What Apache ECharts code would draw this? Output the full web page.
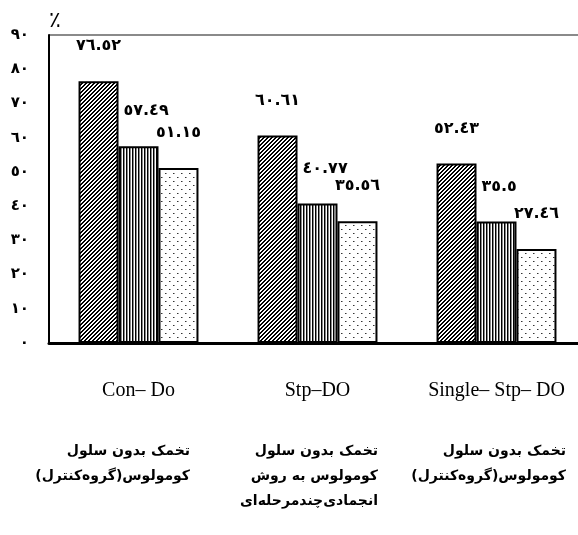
<!DOCTYPE html>
<html><head><meta charset="utf-8">
<script src="https://cdn.jsdelivr.net/npm/echarts@6/dist/echarts.min.js"></script>
<style>html,body{margin:0;padding:0;background:#fff;overflow:hidden}#c{width:700px;height:535px}</style>
</head><body><div id="c"></div>
<script>
const categories = ['Con– Do', 'Stp–DO', 'Single– Stp– DO'];
const faLabels = [
  ['تخمک بدون سلول', 'کومولوس(گروه\u200Cکنترل)'],
  ['تخمک بدون سلول', 'کومولوس به روش', 'انجمادی\u200Cچندمرحله\u200Cای'],
  ['تخمک بدون سلول', 'کومولوس(گروه\u200Cکنترل)']
];
const seriesA = [76.52, 60.61, 52.43];
const seriesB = [57.49, 40.77, 35.5];
const seriesC = [51.15, 35.56, 27.46];
const yMin = 0, yMax = 90, yInterval = 10;
const yName = '٪';

const AR = '٠١٢٣٤٥٦٧٨٩';
function toAr(v){ return String(v).replace(/[0-9]/g, d => AR[+d]); }
function rtl(s){ return '\u200F' + s + '\u200F'; }

function pattern(kind){
  const c = document.createElement('canvas');
  let n = kind === 'diag' ? 4 : kind === 'vert' ? 3 : 8;
  c.width = n; c.height = n;
  const g = c.getContext('2d');
  g.fillStyle = '#fff'; g.fillRect(0,0,n,n);
  if (kind === 'diag') {
    g.fillStyle = '#000';
    for (let x=0;x<n;x++) for (let y=0;y<n;y++) if ((x+y)%4 < 2) g.fillRect(x,y,1,1);
  } else if (kind === 'vert') {
    g.fillStyle = '#000'; g.fillRect(0,0,1,n);
    g.fillStyle = '#888'; g.fillRect(1,0,1,n);
  } else {
    g.fillStyle = '#333';
    g.fillRect(1,1,1,1); g.fillRect(5,5,1,1);
    g.fillStyle = '#999';
    g.fillRect(2,1,1,1); g.fillRect(6,5,1,1);
  }
  return {image: c, repeat: 'repeat'};
}

const labelFont = {fontFamily: 'DejaVu Sans', fontWeight: 'bold', fontSize: 16, color: '#000'};
function mkSeries(name, data, pat, extraLabel){
  return {
    name, type: 'bar', data, barGap: '0%', barCategoryGap: '33%',
    itemStyle: {color: pattern(pat), borderColor: '#000', borderWidth: 2},
    label: Object.assign({show: true, position: 'top', distance: 27,
      formatter: p => toAr(p.value)}, labelFont, extraLabel || {}),
    animation: false
  };
}

const grayIdx = Math.round((yMax - yMin) / yInterval);
const splitColors = [];
for (let i = 0; i <= grayIdx; i++) splitColors.push(i === grayIdx ? '#8a8a8a' : 'rgba(0,0,0,0)');

const chart = echarts.init(document.getElementById('c'), null, {renderer: 'canvas'});
chart.setOption({
  animation: false,
  backgroundColor: '#fff',
  grid: [
    {left: 49, top: 35, width: 537, height: 308, containLabel: false},
    {left: 96, top: 35, width: 564, height: 308, containLabel: false}
  ],
  xAxis: [{
    type: 'category', data: categories, gridIndex: 0,
    axisLine: {lineStyle: {color: '#000', width: 3}},
    axisTick: {show: false},
    axisLabel: {interval: 0, margin: 38, fontFamily: 'Liberation Serif', fontSize: 20, color: '#000'}
  }, {
    type: 'category', data: categories, gridIndex: 1, position: 'bottom',
    axisLine: {show: false}, axisTick: {show: false},
    axisLabel: {
      interval: 0, margin: 96, align: 'right',
      formatter: (v, i) => faLabels[i].map(s => '{fa|' + rtl(s) + '}').join('\n'),
      rich: {fa: {fontFamily: 'DejaVu Sans', fontWeight: 'bold', fontSize: 14, lineHeight: 25, color: '#000', align: 'right'}}
    }
  }],
  yAxis: [{
    type: 'value', min: yMin, max: yMax, interval: yInterval, gridIndex: 0,
    name: yName, nameLocation: 'end', nameGap: 3,
    nameTextStyle: {fontFamily: 'DejaVu Sans', fontSize: 22, color: '#000', padding: [0,0,0,12]},
    axisLine: {show: true, lineStyle: {color: '#000', width: 2}},
    axisTick: {show: false},
    splitLine: {show: true, lineStyle: {color: splitColors, width: 2}},
    axisLabel: {margin: 20, formatter: v => toAr(v), fontFamily: 'DejaVu Sans', fontWeight: 'bold', fontSize: 15, color: '#000'}
  }, {
    type: 'value', gridIndex: 1, min: yMin, max: yMax, show: false
  }],
  series: [
    mkSeries('A', seriesA, 'diag'),
    mkSeries('B', seriesB, 'vert', {align: 'left', offset: [-15, 0]}),
    mkSeries('C', seriesC, 'dots')
  ]
});
</script>
</body></html>
